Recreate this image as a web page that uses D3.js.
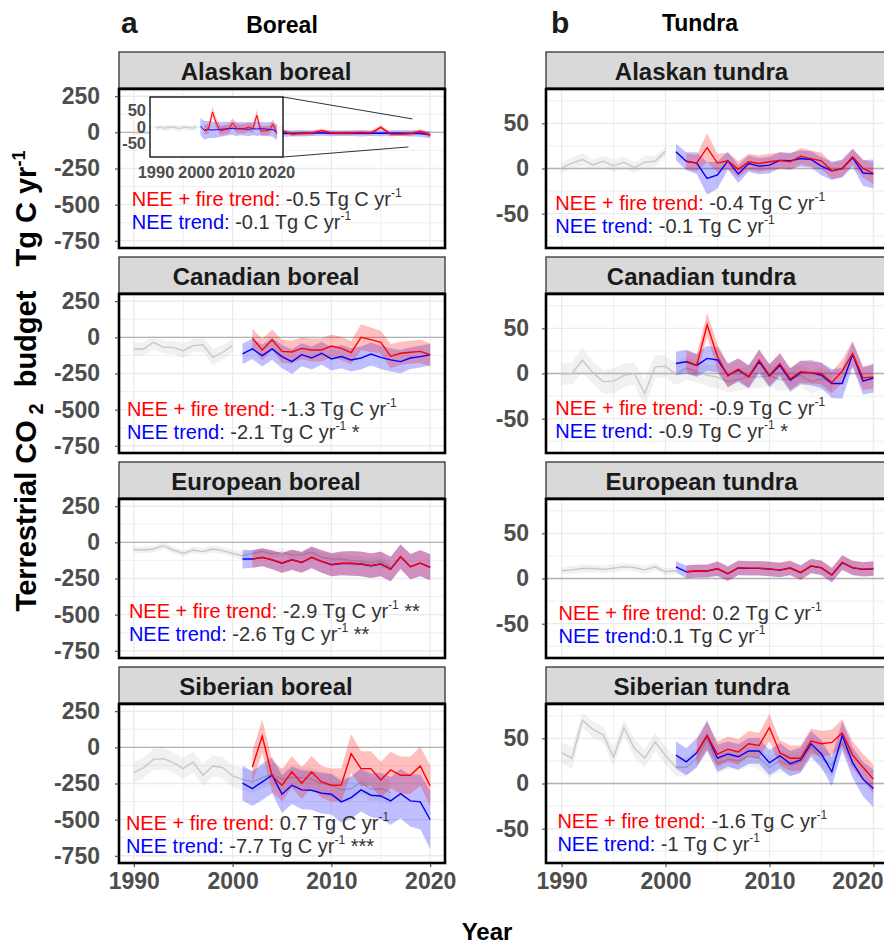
<!DOCTYPE html>
<html>
<head>
<meta charset="utf-8">
<script src="https://cdn.jsdelivr.net/npm/d3@7"></script>
<style>
  body { margin: 0; background: #fff; }
  text { font-family: "Liberation Sans", Arial, sans-serif; }
</style>
</head>
<body>
<div id="chart"></div>
<script>
// years
const neeYears = [2001, 2002, 2003, 2004, 2005, 2006, 2007, 2008, 2009, 2010,
    2011, 2012, 2013, 2014, 2015, 2016, 2017, 2018, 2019, 2020]
const greyYears = [1990, 1991, 1992, 1993, 1994, 1995, 1996, 1997, 1998, 1999,
    2000, 2001, 2002, 2003, 2004, 2005, 2006, 2007, 2008, 2009,
    2010, 2011, 2012, 2013, 2014, 2015, 2016, 2017, 2018]

// Alaskan boreal
const akBorGrey = [-3, -1, -4, -2, 0, -3, -5, -1, -2, -4, -1]
const akBorGreySd = [8, 7, 9, 8, 7, 8, 9, 8, 7, 8, 9]
const akBorNee = [2, -10, -8, -9, -8, -7, -6, -5, -4, -6, -5, -6, -7, -5, -6, -5, -6, -7, -8, -16]
const akBorNeeSd = [25, 28, 26, 25, 24, 22, 22, 20, 20, 21, 20, 20, 21, 20, 21, 20, 20, 21, 22, 24]
const akBorFire = [null, -8, -6, 45, 10, -12, -8, -6, 12, -4, -6, -5, 0, -5, 35, -12, -12, -10, 8, -20]
const akBorFireSd = [null, 15, 15, 16, 15, 14, 14, 14, 15, 14, 14, 14, 14, 14, 16, 15, 14, 14, 15, 16]

// Canadian boreal
const caBorGrey = [-80, -80, -34, -69, -69, -92, -57, -51, -138, -103, -57]
const caBorGreySd = [45, 45, 50, 45, 48, 50, 45, 50, 55, 50, 48]
const caBorNee = [-115, -80, -126, -80, -133, -168, -120, -143, -110, -149, -133, -156, -143, -115, -138, -156, -168, -143, -133, -120]
const caBorNeeSd = [70, 70, 75, 75, 80, 85, 80, 80, 80, 80, 80, 80, 80, 80, 80, 80, 80, 75, 75, 75]
const caBorFire = [null, -5, -87, -16, -97, -101, -76, -87, -87, -60, -76, -106, 0, -16, -34, -131, -110, -103, -97, -120]
const caBorFireSd = [null, 65, 75, 70, 80, 80, 75, 80, 80, 80, 80, 80, 90, 85, 80, 85, 80, 80, 80, 80]

// European boreal
const euBorGrey = [-51, -53, -46, -23, -53, -76, -53, -64, -46, -57, -76, -92, -76, -62, -80, -69, -87, -85, -69, -103, -115, -115, -126, -131, -142, -131, -168]
const euBorGreySd = [22, 22, 24, 22, 23, 24, 22, 23, 22, 24, 25, 26, 26, 27, 28, 28, 29, 30, 30, 31, 32, 32, 33, 33, 34, 34, 35]
const euBorNee = [-115, -115, -104, -121, -144, -121, -139, -104, -132, -155, -146, -146, -150, -162, -150, -185, -100, -169, -144, -173]
const euBorNeeSd = [65, 60, 62, 65, 68, 70, 72, 75, 78, 80, 82, 85, 85, 85, 85, 85, 85, 88, 90, 90]
const euBorFire = [null, -115, -103, -120, -143, -120, -138, -103, -131, -154, -145, -145, -149, -161, -149, -184, -99, -168, -143, -172]
const euBorFireSd = [null, 60, 62, 65, 68, 70, 72, 75, 78, 80, 82, 85, 85, 85, 85, 85, 85, 88, 90, 90]

// Siberian boreal
const siBorGrey = [-175, -140, -83, -78, -106, -147, -101, -193, -129, -140, -198, -221, -239, -209, -186, -221, -209, -209, -221, -248, -262, -294, -285, -239, -290, -285, -313]
const siBorGreySd = [70, 72, 75, 72, 70, 74, 72, 76, 72, 73, 75, 76, 78, 76, 75, 78, 78, 80, 80, 82, 82, 84, 84, 82, 85, 85, 86]
const siBorNee = [-248, -285, -239, -193, -324, -262, -294, -297, -317, -324, -377, -347, -294, -331, -336, -370, -320, -370, -377, -501]
const siBorNeeSd = [120, 120, 125, 125, 130, 130, 135, 135, 140, 140, 145, 145, 150, 150, 160, 165, 170, 180, 190, 200]
const siBorFire = [null, -136, 78, -198, -262, -170, -248, -170, -239, -262, -260, -44, -147, -147, -225, -156, -193, -193, -129, -267]
const siBorFireSd = [null, 110, 115, 110, 110, 110, 110, 110, 110, 115, 115, 135, 120, 120, 125, 125, 130, 130, 135, 140]

// Alaskan tundra
const akTunGrey = [1, 6, 10, 4, 8, 3, 7, 1, 7, 8, 19]
const akTunGreySd = [6, 6, 7, 6, 6, 7, 6, 6, 7, 6, 5]
const akTunNee = [18.5, 8, 6, -11, -7, 8.5, -6, 5.5, 2.6, 3.7, 9, 8.5, 11, 10, 2.6, -2.6, 0, 12, -5, -6]
const akTunNeeSd = [9, 10, 12, 18, 15, 10, 10, 9, 9, 9, 9, 9, 9, 9, 10, 10, 10, 10, 14, 16]
const akTunFire = [null, 8, 6, 23, 6, 8.5, -1, 7.4, 5.5, 7.4, 9, 7.4, 13.7, 11, 8.5, -2.6, 0, 13, 0, -5.5]
const akTunFireSd = [null, 9, 9, 16, 10, 9, 9, 9, 9, 9, 9, 9, 9, 9, 9, 9, 9, 9, 10, 12]

// Canadian tundra
const caTunGrey = [-1, 0, 15, 1, -9, -8.5, -2, 0, -22, 7.4, 8, -1, 6, 2, -2, -4, -9, -7, -3, -4, -2, -7, -6, -2, -9, -6, -9]
const caTunGreySd = [12, 12, 14, 12, 13, 14, 13, 12, 15, 13, 12, 12, 13, 12, 12, 13, 12, 12, 13, 12, 12, 13, 12, 12, 13, 12, 12]
const caTunNee = [11, 13, 9, 16.7, 15, -2, 3.7, -3.7, 13, -2.6, 9, -7.4, 1, 1, -2, -11, -11, 21, -8.5, -5]
const caTunNeeSd = [13, 13, 13, 14, 14, 13, 13, 13, 13, 13, 13, 13, 13, 14, 14, 16, 17, 14, 15, 16]
const caTunFire = [null, 13.7, 9, 54, 18.5, -2.6, 4.8, -3.7, 15, -2, 11, -6, 2, 1, 0, -10, 2.6, 22, -5, -3.7]
const caTunFireSd = [null, 12, 12, 13, 14, 13, 12, 12, 12, 12, 12, 12, 12, 12, 12, 12, 13, 14, 13, 13]

// European tundra
const euTunGrey = [8.5, 9.6, 11, 11, 10, 11.5, 13, 12, 9.6, 13, 7.4, 8.5]
const euTunGreySd = [4, 4, 4.5, 4, 4, 4.5, 4, 4, 4.5, 4, 4, 4]
const euTunNee = [13, 7.4, 8.2, 8.2, 10.7, 5.2, 11.7, 11.2, 11.2, 10.4, 9.3, 11.5, 6.4, 13.7, 11.7, 3.7, 17.5, 11.7, 10.1, 10.7]
const euTunNeeSd = [6, 7, 7, 7, 8, 8, 8, 8, 8, 8, 8, 8, 8, 8, 8, 8, 8, 8, 8, 8]
const euTunFire = [null, 7.4, 8.5, 8.5, 11, 5.5, 12, 11.5, 11.5, 10.7, 9.6, 11.8, 6.7, 14, 12, 4, 17.8, 12, 10.4, 11]
const euTunFireSd = [null, 7, 7, 7, 8, 8, 8, 8, 8, 8, 8, 8, 8, 8, 8, 8, 8, 8, 8, 8]

// Siberian tundra
const siTunGrey = [34, 28, 70, 60, 54, 29, 62, 39, 28, 46, 31, 18, 18, 28, 48, 22, 27, 25, 30, 28, 18, 25, 20, 24, 40, 28, 20, 45, 25]
const siTunGreySd = [12, 12, 8, 9, 9, 10, 9, 10, 10, 10, 10, 10, 10, 11, 11, 11, 11, 11, 11, 12, 12, 12, 12, 12, 12, 12, 12, 12, 12]
const siTunNee = [31.5, 24, 34, 53, 28, 32.6, 29.6, 36, 36, 23, 30.7, 22, 26, 44, 32.6, 13, 53, 23, 4.8, -5.6]
const siTunNeeSd = [15, 15, 16, 17, 15, 14, 14, 14, 14, 14, 14, 14, 14, 14, 15, 16, 16, 17, 19, 21]
const siTunFire = [null, null, 34, 53, 32.6, 38, 35, 44, 42, 62, 34, 28, 28, 47, 44, 45.5, 56, 31.5, 18, 4.8]
const siTunFireSd = [null, null, 14, 15, 14, 14, 14, 14, 14, 15, 14, 14, 14, 14, 14, 14, 15, 15, 15, 16]

// labels
const panelNames = ['Alaskan boreal', 'Canadian boreal', 'European boreal', 'Siberian boreal',
    'Alaskan tundra', 'Canadian tundra', 'European tundra', 'Siberian tundra']
const fireTrend = [' -0.5', ' -1.3', ' -2.9', ' 0.7', ' -0.4', ' -0.9', ' 0.2', ' -1.6']
const fireStars = ['', '', ' **', '', '', '', '', '']
const neeTrend = [' -0.1', ' -2.1', ' -2.6', ' -7.7', ' -0.1', ' -0.9', '0.1', ' -1']
const neeStars = ['', ' *', ' **', ' ***', '', ' *', '', '']
// where the trend text sits (year, value of first baseline)
const labelYear = [1989.8, 1989.3, 1989.5, 1989.2, 1989.4, 1989.4, 1989.7, 1989.6]
const labelValue = [-507, -541, -521, -569, -46, -46, -46, -49]

const borealTicks = [250, 0, -250, -500, -750]
const borealMinor = [125, -125, -375, -625]
const tundraTicks = [50, 0, -50]
const tundraMinor = [75, 25, -25, -75]
const yearTicks = [1990, 2000, 2010, 2020]
const yearMinor = [1995, 2005, 2015]
const insetTicks = [50, 0, -50]

const series = [
    [akBorGrey, akBorGreySd, akBorNee, akBorNeeSd, akBorFire, akBorFireSd],
    [caBorGrey, caBorGreySd, caBorNee, caBorNeeSd, caBorFire, caBorFireSd],
    [euBorGrey, euBorGreySd, euBorNee, euBorNeeSd, euBorFire, euBorFireSd],
    [siBorGrey, siBorGreySd, siBorNee, siBorNeeSd, siBorFire, siBorFireSd],
    [akTunGrey, akTunGreySd, akTunNee, akTunNeeSd, akTunFire, akTunFireSd],
    [caTunGrey, caTunGreySd, caTunNee, caTunNeeSd, caTunFire, caTunFireSd],
    [euTunGrey, euTunGreySd, euTunNee, euTunNeeSd, euTunFire, euTunFireSd],
    [siTunGrey, siTunGreySd, siTunNee, siTunNeeSd, siTunFire, siTunFireSd],
]

const width = 884, height = 944
const cols = [{ left: 119, right: 445 }, { left: 546, right: 889 }]
const stripTop = [52, 257, 462, 667]
const stripH = 36
const plotOffset = 37
const plotH = 159

const svg = d3.select('#chart')
    .append('svg')
    .attr('width', width)
    .attr('height', height)
    .style('display', 'block')

svg.append('rect').attr('width', width).attr('height', height).attr('fill', '#fff')

const pts = (yrs, vals, sds) => vals.map((v, i) => ({ year: yrs[i], v: v, sd: sds[i] }))

function drawData(g, x, y, s, lw) {
    const grey = pts(greyYears, s[0], s[1])
    const nee = pts(neeYears, s[2], s[3])
    const fire = pts(neeYears, s[4], s[5])

    const band = d3.area()
        .defined(d => d.v != null)
        .x(d => x(d.year))
        .y0(d => y(d.v - d.sd))
        .y1(d => y(d.v + d.sd))
    const line = d3.line()
        .defined(d => d.v != null)
        .x(d => x(d.year))
        .y(d => y(d.v))

    g.append('path').attr('d', band(grey)).attr('fill', '#bdbdbd').attr('fill-opacity', 0.22)
    g.append('path').attr('d', line(grey)).attr('fill', 'none').attr('stroke', '#c8c8c8').attr('stroke-width', lw)
    g.append('path').attr('d', band(nee)).attr('fill', '#0000ff').attr('fill-opacity', 0.25)
    g.append('path').attr('d', band(fire)).attr('fill', '#ff0000').attr('fill-opacity', 0.25)
    g.append('path').attr('d', line(nee)).attr('fill', 'none').attr('stroke', '#0000ff').attr('stroke-width', lw)
    g.append('path').attr('d', line(fire)).attr('fill', 'none').attr('stroke', '#ff0000').attr('stroke-width', lw)
}

function drawPanel(i) {
    const col = i < 4 ? 0 : 1
    const row = i % 4
    const c = cols[col]
    const top = stripTop[row] + plotOffset
    const bottom = top + plotH

    const x = d3.scaleLinear().domain([1988.5, 2021.5]).range([c.left, c.right])
    const y = d3.scaleLinear()
        .domain(col === 0 ? [-800, 300] : [-88, 88])
        .range([bottom, top])
    const ticks = col === 0 ? borealTicks : tundraTicks
    const minor = col === 0 ? borealMinor : tundraMinor

    // strip
    svg.append('rect')
        .attr('x', c.left).attr('y', stripTop[row])
        .attr('width', c.right - c.left).attr('height', stripH)
        .attr('fill', '#d9d9d9').attr('stroke', '#333').attr('stroke-width', 1.3)
    svg.append('text')
        .attr('x', (c.left + c.right) / 2 - 16).attr('y', stripTop[row] + 28)
        .attr('text-anchor', 'middle')
        .attr('font-size', 24).attr('font-weight', 'bold').attr('fill', '#1a1a1a')
        .text(panelNames[i])

    const g = svg.append('g')
    g.append('rect').attr('x', c.left).attr('y', top)
        .attr('width', c.right - c.left).attr('height', plotH).attr('fill', '#fff')

    const clipId = 'clip' + i
    g.append('clipPath').attr('id', clipId)
        .append('rect').attr('x', c.left).attr('y', top)
        .attr('width', c.right - c.left).attr('height', plotH)

    // grid
    const grid = g.append('g').attr('stroke', '#ebebeb')
    grid.selectAll('.hm').data(minor).join('line')
        .attr('x1', c.left).attr('x2', c.right)
        .attr('y1', d => y(d)).attr('y2', d => y(d)).attr('stroke-width', 0.8)
    grid.selectAll('.vm').data(yearMinor).join('line')
        .attr('y1', top).attr('y2', bottom)
        .attr('x1', d => x(d)).attr('x2', d => x(d)).attr('stroke-width', 0.8)
    grid.selectAll('.hM').data(ticks).join('line')
        .attr('x1', c.left).attr('x2', c.right)
        .attr('y1', d => y(d)).attr('y2', d => y(d)).attr('stroke-width', 1.3)
    grid.selectAll('.vM').data(yearTicks).join('line')
        .attr('y1', top).attr('y2', bottom)
        .attr('x1', d => x(d)).attr('x2', d => x(d)).attr('stroke-width', 1.3)

    // zero line
    g.append('line')
        .attr('x1', c.left).attr('x2', c.right)
        .attr('y1', y(0)).attr('y2', y(0))
        .attr('stroke', '#b3b3b3').attr('stroke-width', 1.3)

    const dg = g.append('g').attr('clip-path', `url(#${clipId})`)
    drawData(dg, x, y, series[i], 1.4)

    if (i === 0) drawInset(g, x, y)

    // trend text
    const tx = x(labelYear[i]), ty = y(labelValue[i])
    const lines = [
        { lab: 'NEE + fire trend:', col: '#ff0000', val: fireTrend[i], stars: fireStars[i] },
        { lab: 'NEE trend:', col: '#0000ff', val: neeTrend[i], stars: neeStars[i] },
    ]
    lines.forEach((l, k) => {
        const t = g.append('text')
            .attr('x', tx).attr('y', ty + k * 23)
            .attr('font-size', 20)
            .style('white-space', 'pre')
        t.append('tspan').attr('fill', l.col).text(l.lab)
        t.append('tspan').attr('fill', '#333').text(l.val + ' Tg C yr')
        t.append('tspan').attr('fill', '#333').attr('font-size', 12).attr('dy', -9).text('-1')
        t.append('tspan').attr('fill', '#333').attr('dy', 9).text(l.stars)
    })

    // border
    g.append('rect').attr('x', c.left).attr('y', top)
        .attr('width', c.right - c.left).attr('height', plotH)
        .attr('fill', 'none').attr('stroke', '#000').attr('stroke-width', 2.6)

    // y axis
    const ya = svg.append('g')
        .attr('transform', `translate(${c.left},0)`)
        .call(d3.axisLeft(y).tickValues(ticks).tickFormat(d => String(d))
            .tickSize(4).tickPadding(col === 0 ? 15 : 13))
    ya.select('.domain').remove()
    ya.selectAll('line').attr('stroke', '#333')
    ya.selectAll('text')
        .attr('font-size', 23).attr('font-weight', 'bold').attr('fill', '#4d4d4d')
        .attr('font-family', '"Liberation Sans", Arial, sans-serif')

    if (row === 3) {
        const xa = svg.append('g')
            .attr('transform', `translate(0,${bottom})`)
            .call(d3.axisBottom(x).tickValues(yearTicks).tickFormat(d3.format('d')).tickSize(4).tickPadding(6))
        xa.select('.domain').remove()
        xa.selectAll('line').attr('stroke', '#333')
        xa.selectAll('text')
            .attr('font-size', 23).attr('font-weight', 'bold').attr('fill', '#4d4d4d')
            .attr('font-family', '"Liberation Sans", Arial, sans-serif')
        // keep the last label inside the picture
        xa.selectAll('text').filter(d => x(d) + 26 > width)
            .attr('text-anchor', 'end').attr('x', width - 1 - x(2020))
            .attr('dx', 0)
    }
}

function drawInset(g, mx, my) {
    const box = { left: 150, right: 283, top: 97, bottom: 157 }
    const x = d3.scaleLinear().domain([1988.5, 2021.5]).range([box.left, box.right])
    const y = d3.scaleLinear().domain([-90, 90]).range([box.bottom, box.top])

    g.append('rect').attr('x', box.left).attr('y', box.top)
        .attr('width', box.right - box.left).attr('height', box.bottom - box.top)
        .attr('fill', '#fff')
    g.append('clipPath').attr('id', 'insetClip')
        .append('rect').attr('x', box.left).attr('y', box.top)
        .attr('width', box.right - box.left).attr('height', box.bottom - box.top)
    g.append('line')
        .attr('x1', box.left).attr('x2', box.right)
        .attr('y1', y(0)).attr('y2', y(0))
        .attr('stroke', '#e6e6e6').attr('stroke-width', 1)
    const ig = g.append('g').attr('clip-path', 'url(#insetClip)')
    drawData(ig, x, y, series[0], 1)

    g.append('rect').attr('x', box.left).attr('y', box.top)
        .attr('width', box.right - box.left).attr('height', box.bottom - box.top)
        .attr('fill', 'none').attr('stroke', '#000').attr('stroke-width', 1.3)

    // zoom connectors
    g.append('line').attr('x1', box.right).attr('y1', box.top)
        .attr('x2', mx(2018.2)).attr('y2', my(93))
        .attr('stroke', '#333').attr('stroke-width', 1)
    g.append('line').attr('x1', box.right).attr('y1', box.bottom)
        .attr('x2', mx(2017.8)).attr('y2', my(-101))
        .attr('stroke', '#333').attr('stroke-width', 1)

    g.selectAll('.iy').data(insetTicks).join('text')
        .attr('x', box.left - 4).attr('y', d => y(d)).attr('dy', '0.35em')
        .attr('text-anchor', 'end')
        .attr('font-size', 16.5).attr('font-weight', 'bold').attr('fill', '#4d4d4d')
        .text(d => d)
    g.selectAll('.ix').data(yearTicks).join('text')
        .attr('x', d => x(d)).attr('y', box.bottom + 21)
        .attr('text-anchor', 'middle')
        .attr('font-size', 16.5).attr('font-weight', 'bold').attr('fill', '#4d4d4d')
        .text(d => d)
}

d3.range(8).forEach(drawPanel)

// titles
svg.append('text').attr('x', 121).attr('y', 33)
    .attr('font-size', 30).attr('font-weight', 'bold').attr('fill', '#1a1a1a').text('a')
svg.append('text').attr('x', 551).attr('y', 33)
    .attr('font-size', 30).attr('font-weight', 'bold').attr('fill', '#1a1a1a').text('b')
svg.append('text').attr('x', 282).attr('y', 33).attr('text-anchor', 'middle')
    .attr('font-size', 23).attr('font-weight', 'bold').text('Boreal')
svg.append('text').attr('x', 700).attr('y', 31).attr('text-anchor', 'middle')
    .attr('font-size', 23).attr('font-weight', 'bold').text('Tundra')

svg.append('text').attr('x', 487).attr('y', 940).attr('text-anchor', 'middle')
    .attr('font-size', 24).attr('font-weight', 'bold').text('Year')

const yt = svg.append('text')
    .attr('transform', 'translate(36,381) rotate(-90)')
    .attr('text-anchor', 'middle')
    .attr('font-size', 29).attr('font-weight', 'bold')
    .style('white-space', 'pre')
yt.append('tspan').text('Terrestrial CO')
yt.append('tspan').attr('font-size', 20).attr('dy', 7).text(' 2')
yt.append('tspan').attr('dy', -7).text('  budget   Tg C yr')
yt.append('tspan').attr('font-size', 18).attr('dy', -11).text('-1')
</script>
</body>
</html>
